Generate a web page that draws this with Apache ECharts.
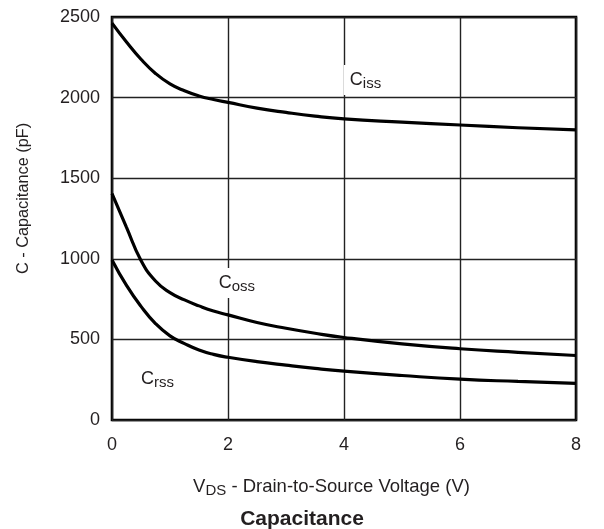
<!DOCTYPE html>
<html><head><meta charset="utf-8">
<script src="https://cdn.jsdelivr.net/npm/echarts@6/dist/echarts.min.js"></script>
<style>html,body{margin:0;padding:0;background:#fff}#c{width:604px;height:529px}</style>
</head><body><div id="c"></div>
<script>
var vds  = [0, 0.25, 0.5, 0.75, 1, 1.25, 1.5, 1.75, 2, 2.5, 3, 3.5, 4, 5, 6, 7, 8];
var ciss = [2462, 2345, 2238, 2150, 2085, 2042, 2010, 1988, 1970, 1935, 1908, 1885, 1868, 1848, 1830, 1813, 1800];
var coss = [1405, 1195, 990, 862, 790, 745, 708, 676, 652, 605, 569, 538, 512, 472, 442, 420, 400];
var crss = [993, 835, 705, 598, 522, 474, 434, 407, 389, 362, 340, 320, 303, 276, 253, 239, 227];
var xTicks = [0, 2, 4, 6, 8];
var yTicks = [0, 500, 1000, 1500, 2000, 2500];
var labels = [
  {name: 'C', sub: 'iss', at: [4.1, 2109]},
  {name: 'C', sub: 'oss', at: [1.84, 850]},
  {name: 'C', sub: 'rss', at: [0.5, 254]}
];
var FONT = '"Liberation Sans", Arial, Helvetica, sans-serif';
var TXT = '#231f20';
function pairs(ys){ return vds.map(function(x,i){ return [x, ys[i]]; }); }
var chart = echarts.init(document.getElementById('c'), null, {renderer: 'canvas'});
function lineSeries(ys, lab){
  return {
    type: 'line', data: pairs(ys), smooth: 0.5, showSymbol: false, silent: true,
    lineStyle: {color: '#000', width: 3.2},
    markPoint: {
      symbol: 'rect', symbolSize: 0, silent: true,
      data: [{coord: lab.at, value: 0}],
      label: {
        show: true, position: 'inside', align: 'left', verticalAlign: 'middle',
        formatter: '{m|' + lab.name + '}{s|' + lab.sub + '}',
        backgroundColor: '#fff', padding: [4, 3, 4, 6], offset: [-6, 0],
        rich: {
          m: {fontFamily: FONT, fontSize: 18, color: TXT, lineHeight: 22, verticalAlign: 'middle'},
          s: {fontFamily: FONT, fontSize: 15, color: TXT, lineHeight: 13, verticalAlign: 'bottom'}
        }
      }
    }
  };
}
chart.setOption({
  animation: false,
  backgroundColor: '#fff',
  title: {
    text: 'Capacitance', left: 'center', top: 504,
    textStyle: {fontFamily: FONT, fontSize: 21, fontWeight: 'bold', color: TXT}
  },
  grid: {left: 112, top: 17, width: 464, height: 403, show: true, borderColor: '#000', borderWidth: 2.6, backgroundColor: 'transparent'},
  xAxis: {
    type: 'value', min: xTicks[0], max: xTicks[xTicks.length-1], interval: 2,
    axisLine: {show: false}, axisTick: {show: false},
    axisLabel: {fontFamily: FONT, fontSize: 18, color: TXT, margin: 16},
    splitLine: {show: true, lineStyle: {color: '#222', width: 1.4}},
    name: '{a|V}{b|DS}{a| - Drain-to-Source Voltage (V)}',
    nameLocation: 'middle', nameGap: 56,
    nameTextStyle: {
      padding: [0, 25, 0, 0],
      rich: {
        a: {fontFamily: FONT, fontSize: 18.5, color: TXT, lineHeight: 22, verticalAlign: 'middle'},
        b: {fontFamily: FONT, fontSize: 15, color: TXT, lineHeight: 12, verticalAlign: 'bottom'}
      }
    }
  },
  yAxis: {
    type: 'value', min: yTicks[0], max: yTicks[yTicks.length-1], interval: 500,
    axisLine: {show: false}, axisTick: {show: false},
    axisLabel: {fontFamily: FONT, fontSize: 18, color: TXT, margin: 12, formatter: function(v){ return String(v); }},
    splitLine: {show: true, lineStyle: {color: '#222', width: 1.4}},
    name: 'C - Capacitance (pF)', nameLocation: 'middle', nameGap: 80, nameRotate: 90,
    nameTextStyle: {fontFamily: FONT, fontSize: 16.3, color: TXT, padding: [0, 0, 0, 40]}
  },
  series: [lineSeries(ciss, labels[0]), lineSeries(coss, labels[1]), lineSeries(crss, labels[2])]
});
</script></body></html>
